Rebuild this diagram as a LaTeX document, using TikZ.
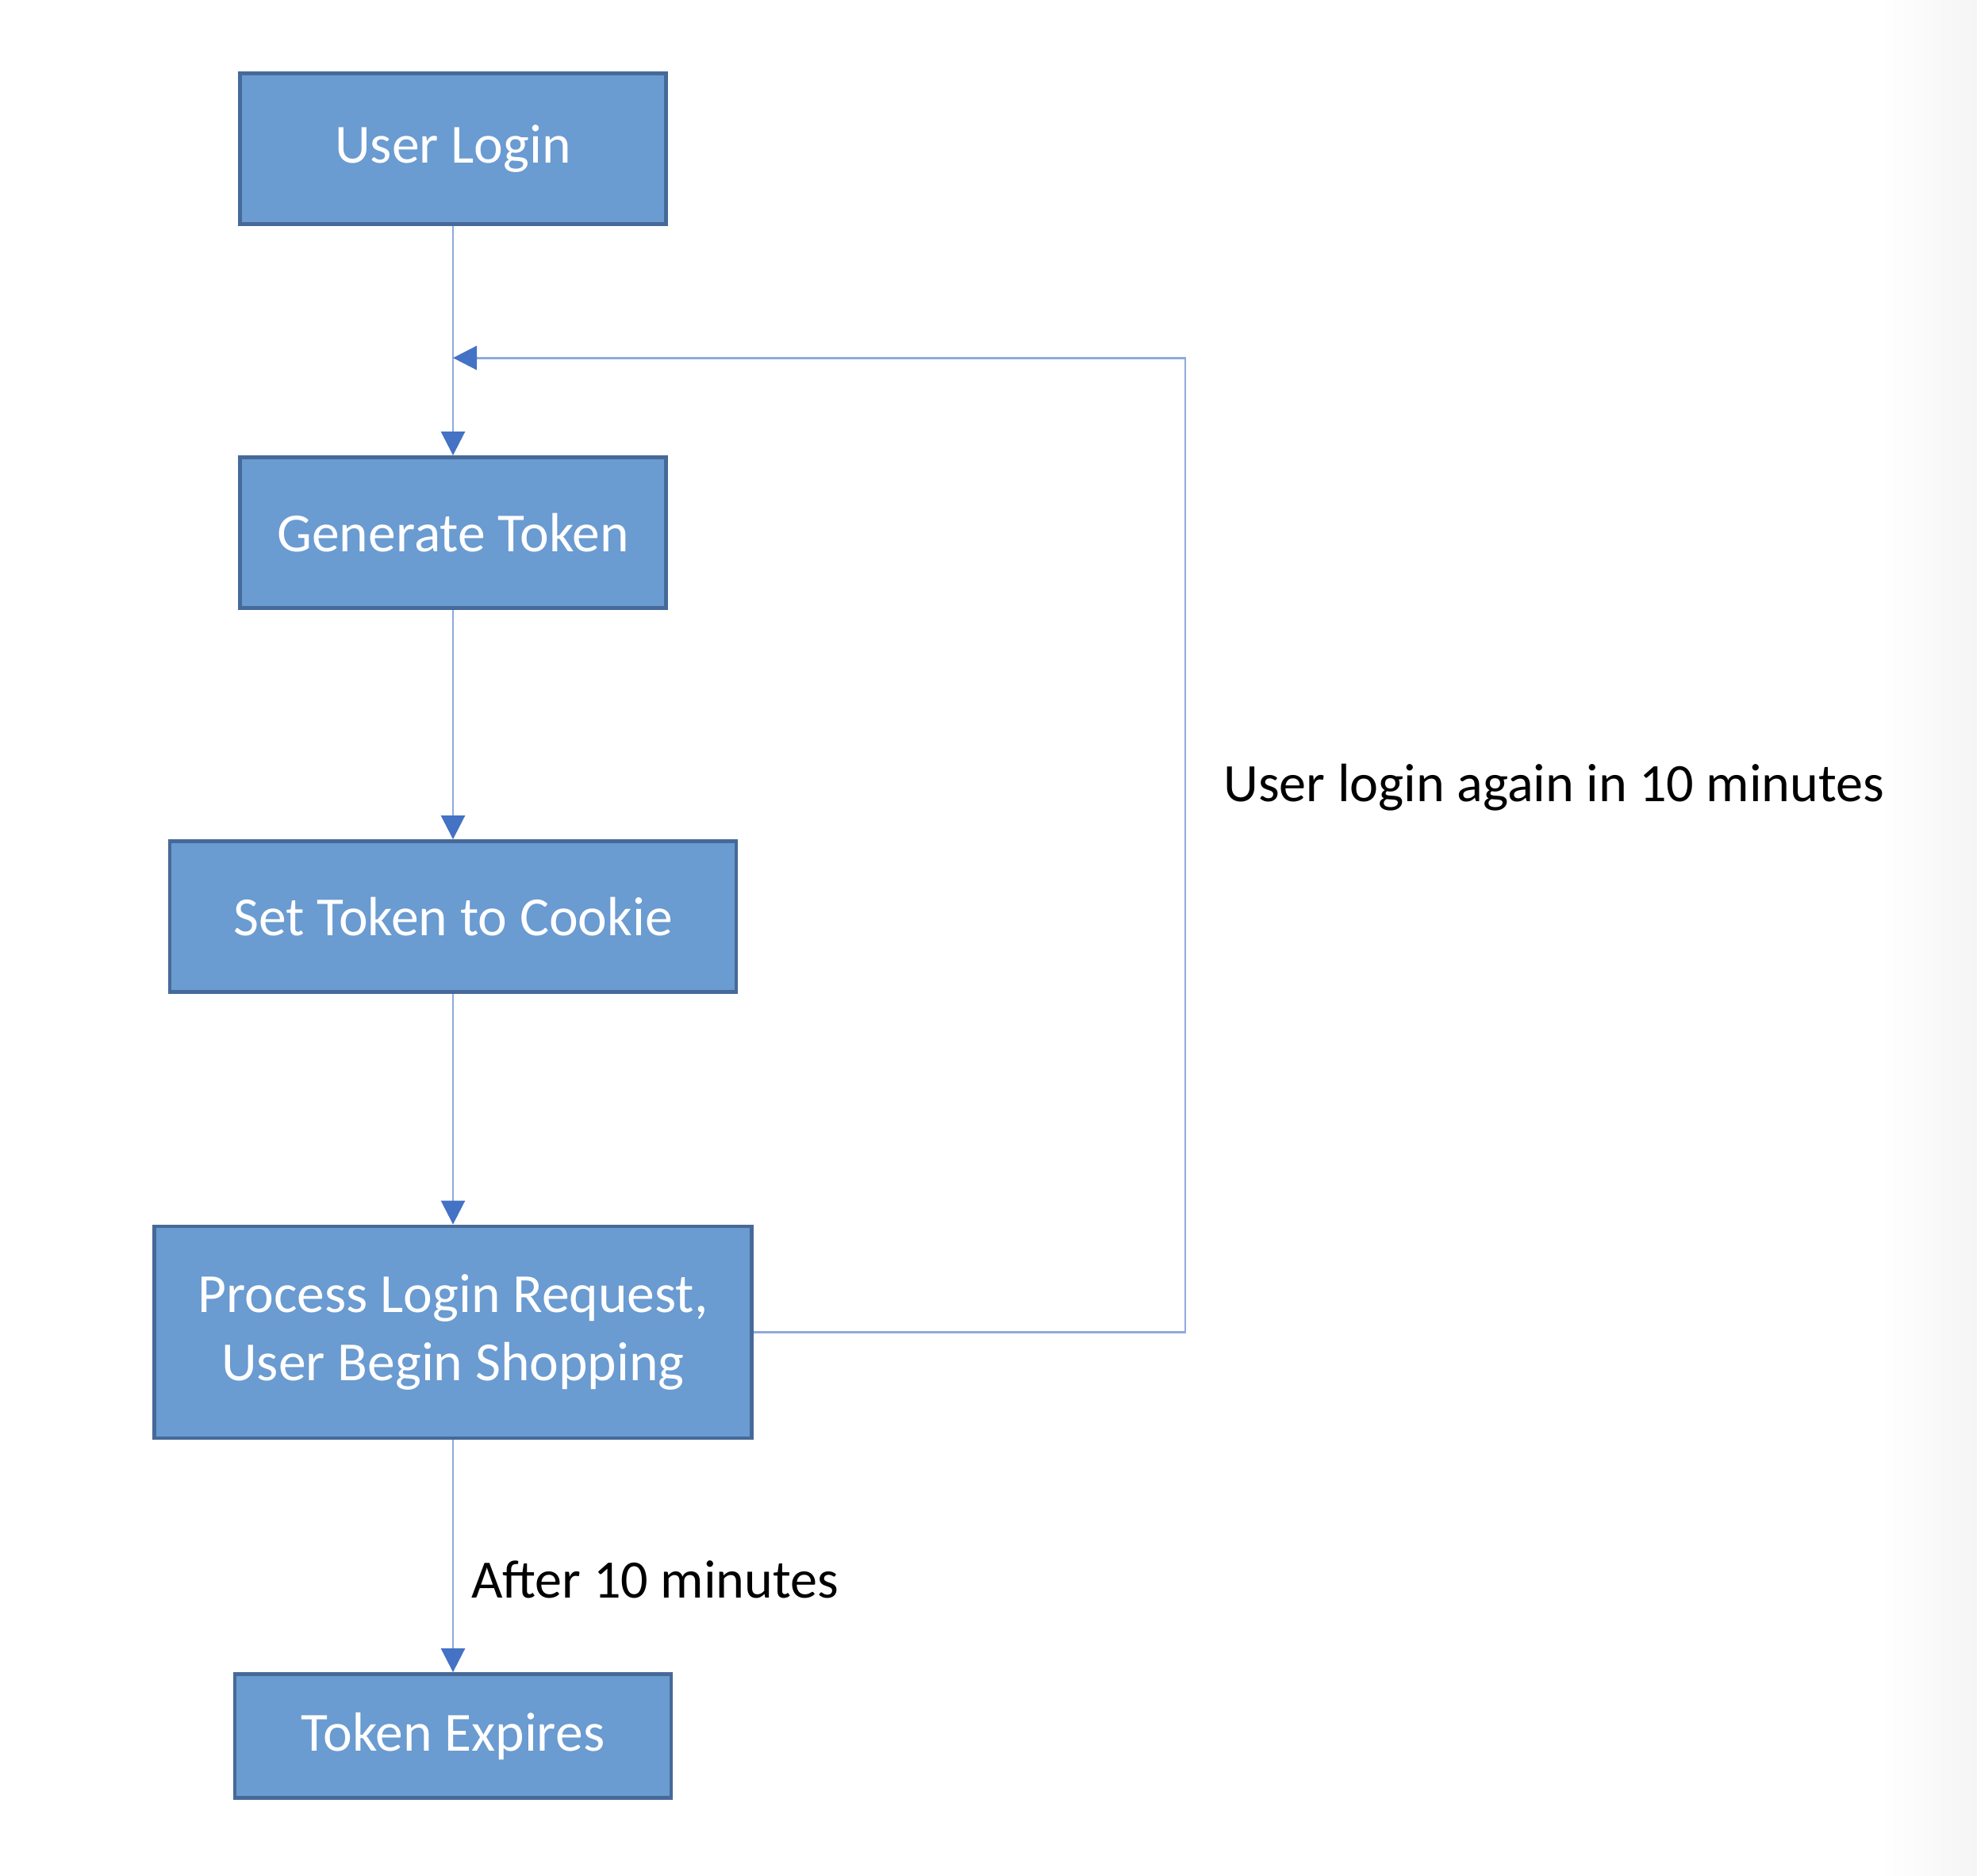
\documentclass[tikz,border=0pt]{standalone}
\usepackage{fontspec}
\setmainfont{Carlito}
\usepackage{xcolor}
\usepackage{tikz}
\usetikzlibrary{shapes.geometric, arrows.meta, calc}
\definecolor{boxfill}{RGB}{106,155,209}
\definecolor{boxline}{RGB}{70,106,152}
\definecolor{linkline}{RGB}{143,170,220}
\definecolor{tipblue}{RGB}{68,114,196}
\tikzstyle{process} = [rectangle, 
minimum height=1.9cm, 
text centered, 
align=center, 
draw=boxline, 
line width=1.4pt, 
fill=boxfill, 
text=white, 
font=\fontsize{19.8}{24.5}\selectfont]
\tikzstyle{arrow} = [draw=linkline, line width=0.8pt,
-{Triangle[length=0.3cm,width=0.3cm,color=tipblue]}]
\tikzstyle{comment}= [rectangle, 
align=left, 
text=black, 
font=\fontsize{19.4}{24}\selectfont]

\begin{document}
\begin{tikzpicture}[node distance=4.84cm]
\useasboundingbox (0,0) rectangle (24.92,-23.64);
% faint shadow at the right edge
\shade[left color=white, right color=black!4] (23.7,0) rectangle (24.92,-23.64);

\node (login) [process, minimum width=5.37cm] at (5.71,-1.875) {User Login};
\node (token) [process, below of=login, minimum width=5.37cm] {Generate Token};
\node (cookie) [process, below of=token, minimum width=7.14cm] {Set Token to Cookie};
\node (shopping) [process, below of=cookie, yshift=-0.4cm, minimum width=7.53cm, minimum height=2.67cm] {Process Login Request,\\
User Begin Shopping};
\node (expires) [process, below of=shopping, yshift=-0.25cm, minimum width=5.5cm, minimum height=1.56cm] {Token Expires};

\coordinate (merge) at ($(login.south)!0.575!(token.north)$);

\draw [arrow] (login) -- (token);
\draw [arrow] (token) -- (cookie);
\draw [arrow] (cookie) -- (shopping);
\draw [arrow] (shopping) -- node[comment, anchor=west, pos=0.6, xshift=0.1cm] (after) {After 10 minutes} (expires);
\draw [arrow] (shopping.east) -- ++ (5.44cm,0) |- (merge);

% label for the loop back
\node (again) [comment, anchor=west] at (15.3,-9.93) {User login again in 10 minutes};

\end{tikzpicture}
\end{document}
